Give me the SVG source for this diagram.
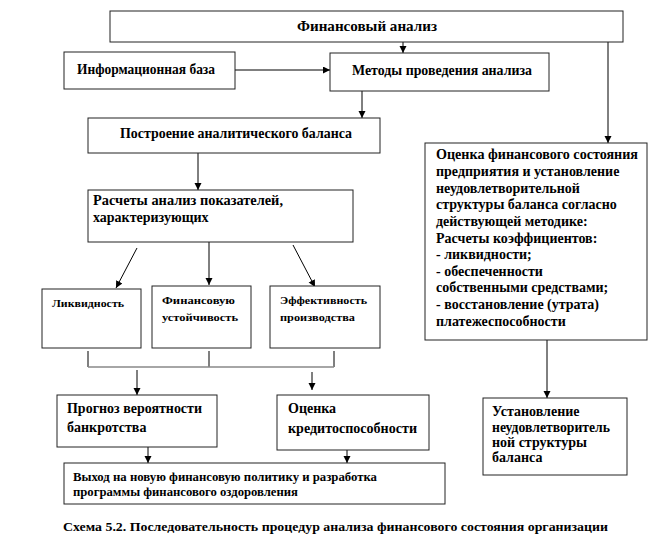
<svg xmlns="http://www.w3.org/2000/svg" width="657" height="554" viewBox="0 0 657 554" font-family="Liberation Serif, DejaVu Serif, serif" font-weight="bold">
<defs>
<marker id="ah" markerWidth="8" markerHeight="8" refX="7" refY="3.5" orient="auto" markerUnits="userSpaceOnUse">
<path d="M0,0 L7,3.5 L0,7 Z" fill="#000"/>
</marker>
<style>
rect{fill:#fff;stroke:#222;stroke-width:1}
text{fill:#000}
.t{font-size:14px}
.s{font-size:11px}
.m{font-size:12px}
.c{font-size:13px}
.ln{stroke:#000;stroke-width:1;fill:none}
.ar{stroke:#000;stroke-width:1;fill:none;marker-end:url(#ah)}
.g{stroke:#888;stroke-width:1.5;fill:none}
</style>
</defs>
<rect x="0" y="0" width="657" height="554" style="fill:#fff;stroke:none"/>
<g id="connectors">
<line class="ar" x1="403" y1="42" x2="403" y2="53"/>
<line class="ar" x1="235" y1="70" x2="330" y2="70"/>
<line class="ar" x1="362" y1="91" x2="362" y2="118"/>
<line class="ar" x1="198" y1="153" x2="198" y2="190"/>
<line class="ar" x1="137" y1="248" x2="116" y2="288"/>
<line class="ar" x1="209" y1="242" x2="209" y2="285"/>
<line class="ar" x1="293" y1="245" x2="315" y2="287"/>
<line class="ln" x1="88" y1="351" x2="88" y2="367"/>
<line class="ln" x1="209" y1="351" x2="209" y2="367"/>
<line class="ln" x1="334" y1="351" x2="334" y2="367"/>
<line class="g" x1="88" y1="367" x2="334" y2="367"/>
<line class="ar" x1="137" y1="370" x2="137" y2="395"/>
<line class="ar" x1="312" y1="372" x2="312" y2="390"/>
<line class="ar" x1="148" y1="447" x2="148" y2="463"/>
<line class="ar" x1="347" y1="450" x2="347" y2="463"/>
<line class="ar" x1="608" y1="42" x2="608" y2="143"/>
<line class="ar" x1="547" y1="340" x2="547" y2="398"/>
</g>
<g id="n-fin">
<rect x="110" y="11" width="513" height="31"/>
<text class="t" x="297" y="31" textLength="140" lengthAdjust="spacingAndGlyphs">Финансовый анализ</text>
</g>
<g id="n-info">
<rect x="64" y="52" width="171" height="37"/>
<text class="t" x="77" y="74" textLength="138" lengthAdjust="spacingAndGlyphs">Информационная  база</text>
</g>
<g id="n-methods">
<rect x="330" y="53" width="219" height="38"/>
<text class="t" x="352" y="75" textLength="180" lengthAdjust="spacingAndGlyphs">Методы проведения анализа</text>
</g>
<g id="n-build">
<rect x="88" y="118" width="292" height="35"/>
<text class="t" x="120" y="138" textLength="232" lengthAdjust="spacingAndGlyphs">Построение аналитического баланса</text>
</g>
<g id="n-calc">
<rect x="88" y="190" width="265" height="52"/>
<text class="t" x="93" y="205" textLength="190" lengthAdjust="spacingAndGlyphs">Расчеты анализ показателей,</text>
<text class="t" x="93" y="222">характеризующих</text>
</g>
<g id="n-liq">
<rect x="42" y="289" width="99" height="59"/>
<text class="s" x="52" y="307" textLength="72" lengthAdjust="spacingAndGlyphs">Ликвидность</text>
</g>
<g id="n-stab">
<rect x="152" y="286" width="99" height="62"/>
<text class="s" x="162" y="304" textLength="73" lengthAdjust="spacingAndGlyphs">Финансовую</text>
<text class="s" x="162" y="321" textLength="76" lengthAdjust="spacingAndGlyphs">устойчивость</text>
</g>
<g id="n-eff">
<rect x="270" y="286" width="110" height="62"/>
<text class="s" x="280" y="304" textLength="87" lengthAdjust="spacingAndGlyphs">Эффективность</text>
<text class="s" x="280" y="321" textLength="75" lengthAdjust="spacingAndGlyphs">производства</text>
</g>
<g id="n-bankr">
<rect x="57" y="395" width="160" height="52"/>
<text class="t" x="67" y="413" textLength="135" lengthAdjust="spacingAndGlyphs">Прогноз вероятности</text>
<text class="t" x="67" y="432">банкротства</text>
</g>
<g id="n-credit">
<rect x="277" y="395" width="152" height="55"/>
<text class="t" x="288" y="413">Оценка</text>
<text class="t" x="288" y="433" textLength="129" lengthAdjust="spacingAndGlyphs">кредитоспособности</text>
</g>
<g id="n-exit">
<rect x="64" y="463" width="381" height="41"/>
<text class="m" x="73" y="481" textLength="304" lengthAdjust="spacingAndGlyphs">Выход  на новую финансовую политику и разработка</text>
<text class="m" x="73" y="496" textLength="225" lengthAdjust="spacingAndGlyphs">программы финансового оздоровления</text>
</g>
<g id="n-assess">
<rect x="425" y="143" width="222" height="197"/>
<text class="t" x="436" y="159" textLength="202" lengthAdjust="spacingAndGlyphs">Оценка финансового  состояния</text>
<text class="t" x="436" y="176">предприятия  и установление</text>
<text class="t" x="436" y="193">неудовлетворительной</text>
<text class="t" x="436" y="209">структуры баланса согласно</text>
<text class="t" x="436" y="226">действующей методике:</text>
<text class="t" x="436" y="243">Расчеты коэффициентов:</text>
<text class="t" x="436" y="259">- ликвидности;</text>
<text class="t" x="436" y="276">- обеспеченности</text>
<text class="t" x="436" y="292">собственными средствами;</text>
<text class="t" x="436" y="309">-  восстановление (утрата)</text>
<text class="t" x="436" y="326">платежеспособности</text>
</g>
<g id="n-struct">
<rect x="483" y="398" width="144" height="77"/>
<text class="t" x="492" y="416">Установление</text>
<text class="t" x="492" y="432" textLength="118" lengthAdjust="spacingAndGlyphs">неудовлетворитель</text>
<text class="t" x="492" y="447">ной структуры</text>
<text class="t" x="492" y="462">баланса</text>
</g>
<g id="caption">
<text class="c" x="63" y="531" textLength="545" lengthAdjust="spacingAndGlyphs">Схема 5.2. Последовательность процедур анализа финансового  состояния организации</text>
</g>
</svg>
